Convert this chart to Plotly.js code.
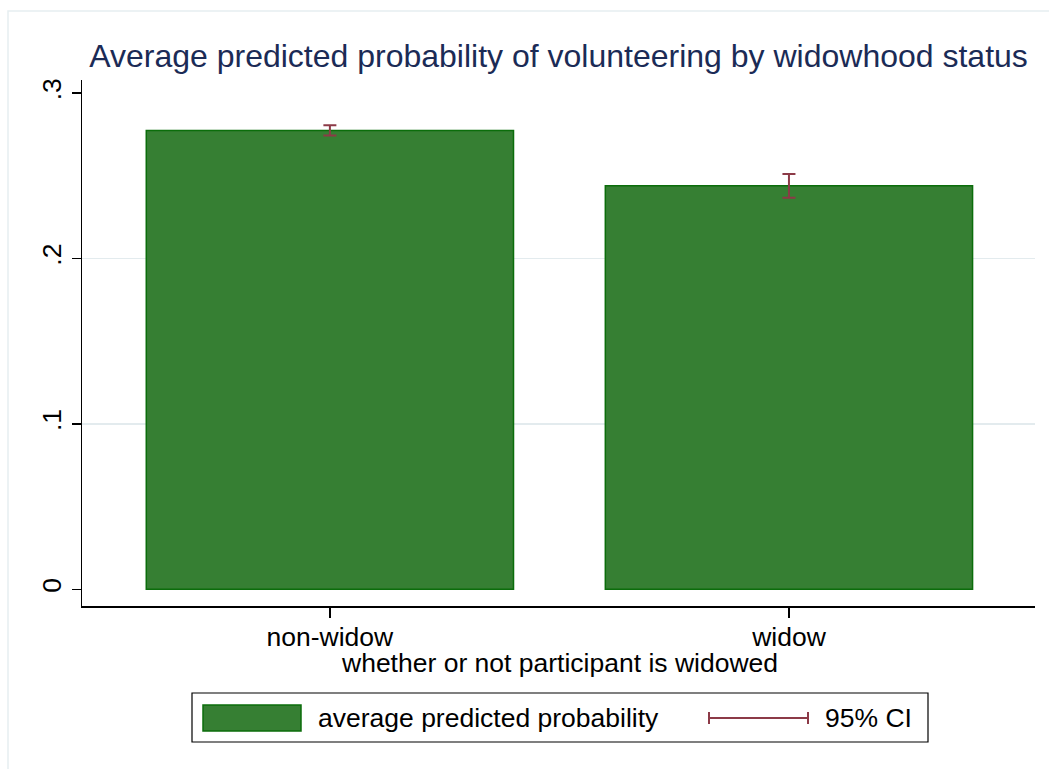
<!DOCTYPE html>
<html>
<head>
<meta charset="utf-8">
<script src="https://cdn.plot.ly/plotly-3.0.1.min.js"></script>
<style>
  html, body { margin: 0; padding: 0; background: #ffffff; }
  #chart { width: 1049px; height: 769px; }
</style>
</head>
<body>
<div id="chart"></div>
<script>
// Widowhood status categories and average predicted probabilities with 95% CIs
const categories = ["non-widow", "widow"];
const probability = [0.2775, 0.2440];
const ciLower = [0.2744, 0.2368];
const ciUpper = [0.2806, 0.2512];

const yTickValues = [0, 0.1, 0.2, 0.3];
const yTickLabels = ["0", ".1", ".2", ".3"];
const gridValues = [0.1, 0.2];

const titleText = "Average predicted probability of volunteering by widowhood status";
const xTitleText = "whether or not participant is widowed";
const legendLabels = ["average predicted probability", "95% CI"];

// Colours
const barFill = "#367f33";
const barLine = "#0b6d0b";
const ciColor = "#8c3a47";
const gridColor = "#e3ebee";
const titleColor = "#1b2b56";

// Plot area in pixels
const W = 1049, H = 769;
const M = { l: 82, r: 14, t: 80, b: 163 };
const plotW = W - M.l - M.r, plotH = H - M.t - M.b;
const px = x => (x - M.l) / plotW;
const py = y => (H - M.b - y) / plotH;

const bars = {
  type: "bar",
  x: [0, 1],
  y: probability,
  width: 0.8,
  marker: { color: barFill, line: { color: barLine, width: 1.5 } },
  error_y: {
    type: "data",
    symmetric: false,
    array: probability.map((v, i) => ciUpper[i] - v),
    arrayminus: probability.map((v, i) => v - ciLower[i]),
    color: ciColor,
    thickness: 2,
    width: 6.5
  },
  hoverinfo: "skip",
  showlegend: false
};

// Invisible trace carrying the gridline-only axis
const gridTrace = {
  type: "scatter", x: [0], y: [0], yaxis: "y2",
  mode: "markers", marker: { opacity: 0 }, showlegend: false, hoverinfo: "skip"
};

const font = "Liberation Sans, Arial, sans-serif";
const textSize = 26.5;

const shapes = [
  // outer graph region frame
  { type: "rect", xref: "paper", yref: "paper",
    x0: px(8), x1: px(1060), y0: py(780), y1: py(11),
    line: { color: "#e6eef1", width: 1.5 }, fillcolor: "rgba(0,0,0,0)", layer: "below" },
  // legend box
  { type: "rect", xref: "paper", yref: "paper",
    x0: px(192), x1: px(928), y0: py(742), y1: py(693),
    line: { color: "#000000", width: 1.2 }, fillcolor: "#ffffff" },
  // bar swatch
  { type: "rect", xref: "paper", yref: "paper",
    x0: px(203), x1: px(301), y0: py(731), y1: py(705),
    line: { color: barLine, width: 1.5 }, fillcolor: barFill },
  // CI symbol
  { type: "line", xref: "paper", yref: "paper",
    x0: px(709), x1: px(808), y0: py(718), y1: py(718),
    line: { color: ciColor, width: 2 } },
  { type: "line", xref: "paper", yref: "paper",
    x0: px(709), x1: px(709), y0: py(712), y1: py(724),
    line: { color: ciColor, width: 2 } },
  { type: "line", xref: "paper", yref: "paper",
    x0: px(808), x1: px(808), y0: py(712), y1: py(724),
    line: { color: ciColor, width: 2 } }
];

const annotations = [
  { xref: "paper", yref: "paper", x: px(316), y: py(718), xanchor: "left", yanchor: "middle",
    text: legendLabels[0], showarrow: false, font: { family: font, size: textSize, color: "#000" } },
  { xref: "paper", yref: "paper", x: px(823), y: py(718), xanchor: "left", yanchor: "middle",
    text: legendLabels[1], showarrow: false, font: { family: font, size: textSize, color: "#000" } },
  { xref: "paper", yref: "paper", x: px(559), y: py(663), xanchor: "center", yanchor: "middle",
    text: xTitleText, showarrow: false, font: { family: font, size: textSize, color: "#000" } }
];

const layout = {
  width: W, height: H,
  margin: M,
  paper_bgcolor: "#ffffff",
  plot_bgcolor: "#ffffff",
  showlegend: false,
  title: {
    text: titleText,
    font: { family: font, size: 32, color: titleColor },
    x: 0.5, xref: "paper", xanchor: "center",
    y: 1 - 56 / H, yref: "container", yanchor: "middle"
  },
  xaxis: {
    range: [-0.540, 1.536],
    tickmode: "array",
    tickvals: [0, 1],
    ticktext: categories,
    ticks: "outside", ticklen: 10, tickwidth: 1.5, tickcolor: "#000",
    ticklabelstandoff: -3,
    showline: true, linecolor: "#000", linewidth: 1.5,
    showgrid: false, zeroline: false,
    tickfont: { family: font, size: textSize, color: "#000" },
    fixedrange: true
  },
  yaxis: {
    range: [-0.0101, 0.308],
    tickmode: "array",
    tickvals: yTickValues,
    ticktext: yTickLabels,
    tickangle: -90,
    ticks: "outside", ticklen: 9, tickwidth: 1.5, tickcolor: "#000",
    showline: true, linecolor: "#000", linewidth: 1.5,
    showgrid: false, zeroline: false,
    tickfont: { family: font, size: textSize, color: "#000" },
    fixedrange: true
  },
  yaxis2: {
    overlaying: "y",
    range: [-0.0101, 0.308],
    tickmode: "array",
    tickvals: gridValues,
    showticklabels: false, ticks: "",
    showgrid: true, gridcolor: gridColor, gridwidth: 1.5,
    showline: false, zeroline: false, fixedrange: true
  },
  shapes: shapes,
  annotations: annotations
};

Plotly.newPlot("chart", [gridTrace, bars], layout, { displayModeBar: false, staticPlot: true });
</script>
</body>
</html>
